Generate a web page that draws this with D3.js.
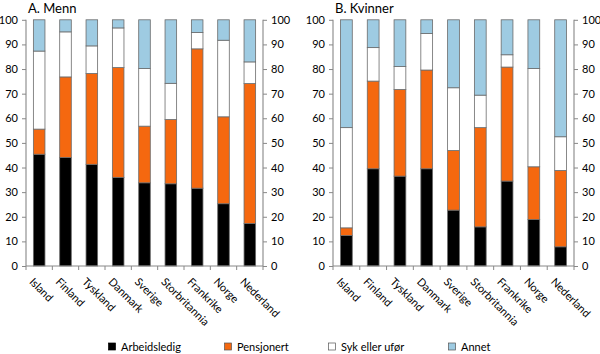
<!DOCTYPE html>
<html><head><meta charset="utf-8">
<script src="https://cdn.jsdelivr.net/npm/d3@7"></script>
<style>body{margin:0;background:#fff}text{font-family:Lato,"Open Sans",sans-serif;fill:#000}</style>
</head><body><svg id="c" width="600" height="354"></svg>
<script>
const categories = ["Island","Finland","Tyskland","Danmark","Sverige","Storbritannia","Frankrike","Norge","Nederland"];
const seriesNames = ["Arbeidsledig","Pensjonert","Syk eller ufør","Annet"];
const seriesColors = ["#000000","#f5680f","#ffffff","#9ecbe2"];
const menArbeidsledig = [45.4,44.1,41.3,36.0,33.8,33.4,31.6,25.3,17.3];
const menPensjonert   = [10.2,32.7,36.9,44.6,23.0,26.1,56.6,35.3,56.8];
const menSyk          = [31.7,18.3,11.2,16.1,23.4,14.7,6.6,31.1,8.8];
const menAnnet        = [12.7,4.9,10.6,3.3,19.8,25.8,5.2,8.3,17.1];
const womenArbeidsledig = [12.4,39.5,36.5,39.5,22.7,15.9,34.5,18.9,7.8];
const womenPensjonert   = [3.1,35.6,35.2,40.1,24.2,40.3,46.3,21.4,31.0];
const womenSyk          = [40.7,13.6,9.3,14.8,25.5,13.2,5.0,39.9,13.7];
const womenAnnet        = [43.8,11.3,19.0,5.6,27.6,30.6,14.2,19.8,47.5];
const yTicks = [0,10,20,30,40,50,60,70,80,90,100];
const panelTitles = ["A. Menn","B. Kvinner"];

const svg = d3.select("#c");
const panels = [
  {title: panelTitles[0], x0: 26, x1: 263, data: [menArbeidsledig,menPensjonert,menSyk,menAnnet]},
  {title: panelTitles[1], x0: 333, x1: 574, data: [womenArbeidsledig,womenPensjonert,womenSyk,womenAnnet]}
];
const y = d3.scaleLinear().domain([0,100]).range([266,19.8]);

panels.forEach(p => {
  const g = svg.append("g");
  const x = d3.scaleBand().domain(categories).range([p.x0,p.x1]).paddingInner(0.56).paddingOuter(0.28);
  const rows = categories.map((c,i)=>{const o={cat:c}; seriesNames.forEach((s,k)=>o[s]=p.data[k][i]); return o;});
  const stacked = d3.stack().keys(seriesNames)(rows);
  stacked.forEach((layer,k)=>{
    g.selectAll(null).data(layer).enter().append("rect")
      .attr("x", d=>x(d.data.cat)).attr("width", x.bandwidth())
      .attr("y", d=>y(d[1])).attr("height", d=>y(d[0])-y(d[1]))
      .attr("fill", seriesColors[k]).attr("stroke","#6b6b6b").attr("stroke-width",0.8);
  });
  // left axis
  const la = g.append("g").attr("transform",`translate(${p.x0},0)`).call(d3.axisLeft(y).tickValues(yTicks).tickSize(4).tickPadding(4));
  const ra = g.append("g").attr("transform",`translate(${p.x1},0)`).call(d3.axisRight(y).tickValues(yTicks).tickSize(4).tickPadding(4));
  [la,ra].forEach(a=>{
    a.select(".domain").attr("stroke","#bdbdbd").attr("stroke-width",2).attr("d",`M0,${y(0)}V${y(100)}`);
    a.selectAll(".tick line").attr("stroke","#888");
    a.selectAll("text").style("font-size","11px").attr("fill","#000");
  });
  // x axis
  const xb = g.append("g");
  xb.append("line").attr("x1",p.x0).attr("x2",p.x1).attr("y1",y(0)).attr("y2",y(0)).attr("stroke","#888");
  const step = (p.x1-p.x0)/categories.length;
  d3.range(categories.length+1).forEach(i=>{
    xb.append("line").attr("x1",p.x0+i*step).attr("x2",p.x0+i*step).attr("y1",y(0)).attr("y2",y(0)+4).attr("stroke","#888");
  });
  categories.forEach(c=>{
    const cx = x(c)+x.bandwidth()/2;
    xb.append("text").attr("transform",`translate(${cx-5},${y(0)+11}) rotate(45)`)
      .attr("text-anchor","start").attr("dy","0.7em").style("font-size","11px").text(c);
  });
  g.append("text").attr("x",p.x0+2).attr("y",13).style("font-size","13px").text(p.title);
});

// legend
const legX = [112,228,332,452];
seriesNames.forEach((s,k)=>{
  svg.append("rect").attr("x",legX[k]-3.5).attr("y",343).attr("width",7).attr("height",7)
    .attr("fill",seriesColors[k]).attr("stroke",k===2?"#555":(k===0?"#000":"#555")).attr("stroke-width",0.7);
  svg.append("text").attr("x",legX[k]+9).attr("y",350.5).style("font-size","11px").text(s);
});
</script></body></html>
